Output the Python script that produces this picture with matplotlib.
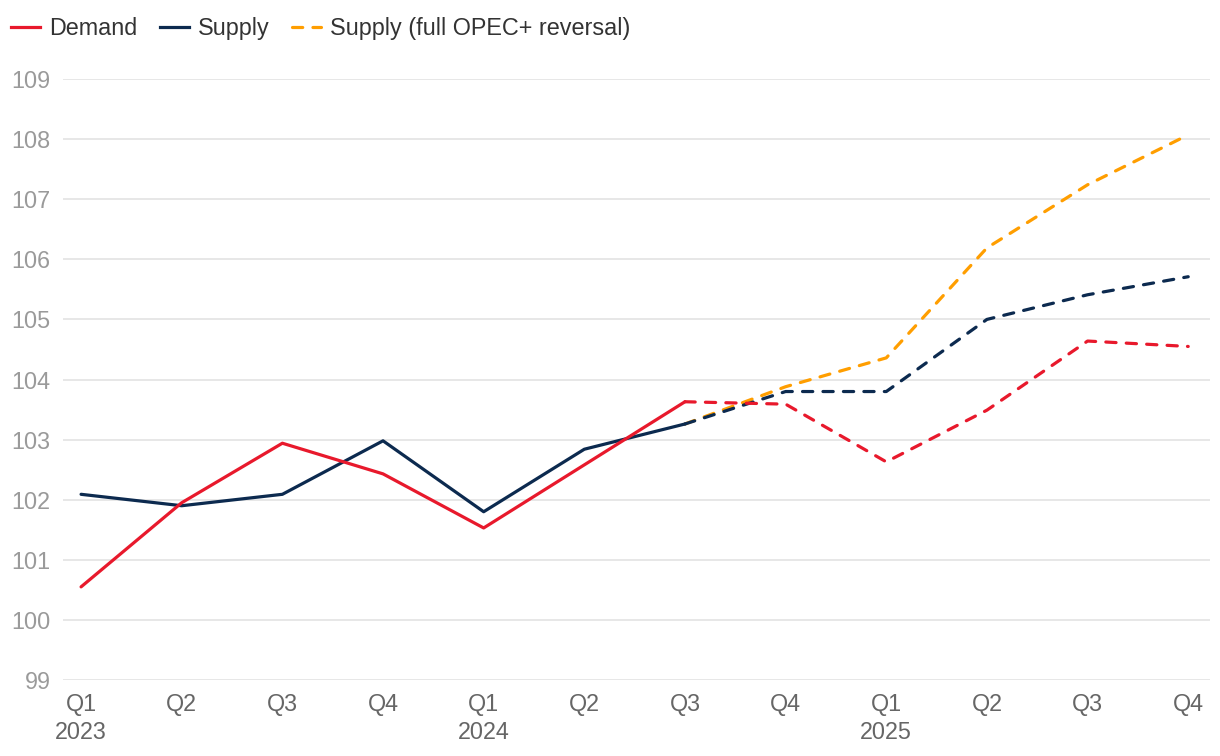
import matplotlib.pyplot as plt
from matplotlib.lines import Line2D

plt.rcParams['font.family'] = ['Liberation Sans', 'DejaVu Sans']

quarters = ['Q1\n2023', 'Q2', 'Q3', 'Q4', 'Q1\n2024', 'Q2', 'Q3', 'Q4',
            'Q1\n2025', 'Q2', 'Q3', 'Q4']
demand = [100.55, 101.95, 102.94, 102.43, 101.53, 102.58, 103.63,
          103.59, 102.63, 103.49, 104.64, 104.55]
supply = [102.09, 101.90, 102.09, 102.98, 101.80, 102.84, 103.26,
          103.80, 103.80, 105.00, 105.41, 105.71]
supply_opec = [103.26, 103.88, 104.36, 106.19, 107.24, 108.07]  # from Q3 2024
n_actual = 7  # Q1 2023 .. Q3 2024 are actuals

red = '#e8192c'
navy = '#0c2a4f'
orange = '#ff9e00'
lw = 2.3
dash = (0, (3.2, 3.2))
fs = 16.8

fig = plt.figure(figsize=(12.2, 7.56), dpi=100)
ax = fig.add_axes([0.0516, 0.1005, 0.9405, 0.795])

x = list(range(len(quarters)))
xo = x[n_actual - 1:]
ax.plot(xo, supply_opec, color=orange, lw=lw, ls=dash, dash_capstyle='round')
ax.plot(x[n_actual - 1:], supply[n_actual - 1:], color=navy, lw=lw, ls=dash, dash_capstyle='round')
ax.plot(x[n_actual - 1:], demand[n_actual - 1:], color=red, lw=lw, ls=dash, dash_capstyle='round')
ax.plot(x[:n_actual], supply[:n_actual], color=navy, lw=lw, solid_capstyle='round')
ax.plot(x[:n_actual], demand[:n_actual], color=red, lw=lw, solid_capstyle='round')

ax.set_xlim(-0.18, 11.22)
ax.set_ylim(99, 109)
ax.set_yticks(range(99, 110))
ax.set_xticks(x)
ax.set_xticklabels(quarters, linespacing=1.3)
ax.grid(axis='y', color='#e3e3e3', lw=1.2)
ax.set_axisbelow(True)
for s in ax.spines.values():
    s.set_visible(False)
ax.tick_params(axis='both', length=0)
ax.tick_params(axis='y', labelsize=fs, labelcolor='#9a9a9a', pad=9)
ax.tick_params(axis='x', labelsize=fs, labelcolor='#666666', pad=9)

handles = [Line2D([], [], color=red, lw=lw),
           Line2D([], [], color=navy, lw=lw),
           Line2D([], [], color=orange, lw=lw, ls=dash, dash_capstyle='round')]
fig.legend(handles, ['Demand', 'Supply', 'Supply (full OPEC+ reversal)'],
           loc='upper left', bbox_to_anchor=(-0.008, 1.005), ncol=3, frameon=False,
           fontsize=fs, handlelength=1.25, handletextpad=0.38, columnspacing=0.95,
           labelcolor='#333333')

fig.savefig('out.png', dpi=100)
